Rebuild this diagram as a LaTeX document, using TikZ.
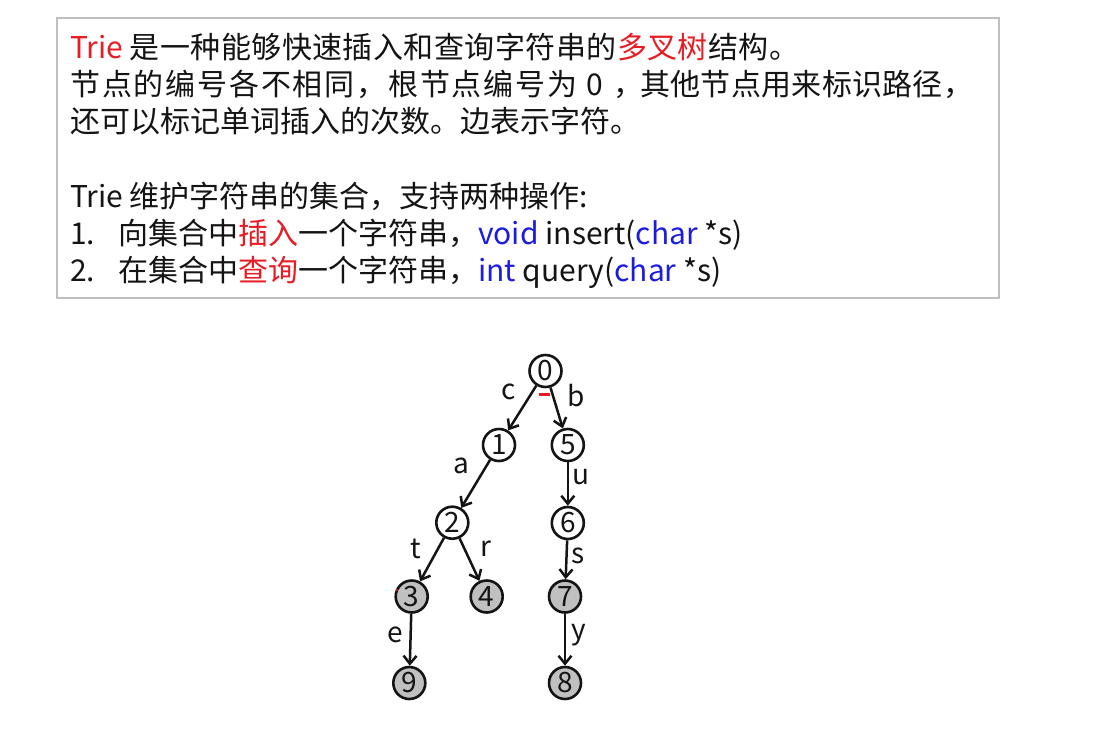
\documentclass[tikz,border=0pt]{standalone}
\usepackage{fontspec}
\setmainfont{Noto Sans CJK SC}
\usetikzlibrary{arrows.meta}
\definecolor{tred}{RGB}{232,28,36}
\definecolor{tblue}{RGB}{28,28,222}
\definecolor{tgray}{RGB}{192,192,192}
\definecolor{nfill}{RGB}{192,192,192}
\definecolor{ink}{RGB}{20,20,20}
\newcommand\pitched[2]{\def\pitchw{#1}\pitchedloop#2\relax}
\def\pitchedloop#1{\ifx#1\relax\else\makebox[\pitchw][l]{#1}\expandafter\pitchedloop\fi}
\begin{document}
\begin{tikzpicture}[x=1pt,y=-1pt,
  txtline/.style={anchor=base west,inner sep=0pt,font=\fontsize{30}{36}\selectfont,text=ink},
  tnode/.style={circle,draw=ink,line width=2.6pt,minimum size=32pt,inner sep=0pt,font=\fontsize{28}{28}\selectfont,text=ink},
  leaf/.style={tnode,fill=nfill},
  tedge/.style={draw=ink,line width=2.5pt,-{Straight Barb[length=8pt,width=13pt,line width=2.5pt]}},
  elab/.style={font=\fontsize{28}{28}\selectfont,inner sep=0pt,text=ink}]
\useasboundingbox (0,0) rectangle (1102,742);
\fill[white] (0,0) rectangle (1102,742);
% text box
\draw[tgray,line width=1.5pt] (57,18) rectangle (999,298);
\node[txtline] (t1) at (70,58) {\textcolor{tred}{Trie} \pitched{30.45pt}{是一种能够快速插入和查询字符串的}\textcolor{tred}{\pitched{30.45pt}{多叉树}}\pitched{30.45pt}{结构。}};
\node[txtline] (t2) at (70,95) {\pitched{31.8pt}{节点的编号各不相同，根节点编号为}\hspace{8pt}0\hspace{9.6pt}\makebox[27pt][l]{，}\pitched{30.3pt}{其他节点用来标识路径，}};
\node[txtline] (t3) at (70,132) {还可以标记单词插入的次数。边表示字符。};
\node[txtline] (t4) at (70,207) {Trie 维护字符串的集合，支持两种操作:};
\node[txtline] (t5) at (70,244) {\makebox[48pt][l]{1.}向集合中\textcolor{tred}{插入}一个字符串，\textcolor{tblue}{void} insert(\textcolor{tblue}{char} *s)};
\node[txtline] (t6) at (70,281) {\makebox[48pt][l]{2.}在集合中\textcolor{tred}{查询}一个字符串，\textcolor{tblue}{int} query(\textcolor{tblue}{char} *s)};
% tree nodes
\node[tnode] (n0) at (545.5,371) {0};
\node[tnode] (n1) at (499,445) {1};
\node[tnode] (n5) at (567.8,445) {5};
\node[tnode] (n2) at (452.3,522.7) {2};
\node[tnode] (n6) at (567.8,523) {6};
\node[leaf] (n3) at (411.7,596.5) {3};
\node[leaf] (n4) at (486.7,596.5) {4};
\node[leaf] (n7) at (565,596.5) {7};
\node[leaf] (n9) at (409.3,683) {9};
\node[leaf] (n8) at (565,683) {8};
% edges
\draw[tedge] (n0) -- (n1);
\draw[tedge] (n0) -- (n5);
\draw[tedge] (n1) -- (n2);
\draw[tedge] (n5) -- (n6);
\draw[tedge] (n2) -- (n3);
\draw[tedge] (n2) -- (n4);
\draw[tedge] (n6) -- (n7);
\draw[tedge] (n3) -- (n9);
\draw[tedge] (n7) -- (n8);
% edge labels
\node[elab] (lc) at (508.3,392) {c};
\node[elab] (lb) at (576.3,396) {b};
\node[elab] (la) at (461,466) {a};
\node[elab] (lu) at (580.5,477) {u};
\node[elab] (lt) at (416,549) {t};
\node[elab] (lr) at (486,549) {r};
\node[elab] (ls) at (578.3,556) {s};
\node[elab] (le) at (395,635) {e};
\node[elab] (ly) at (578.3,635) {y};
% small red marks
\draw[tred,line width=2.6pt] (538.5,394.3) -- (549.5,394.3);
\fill[tred] (397,590) circle (1.2pt);
\end{tikzpicture}
\end{document}
